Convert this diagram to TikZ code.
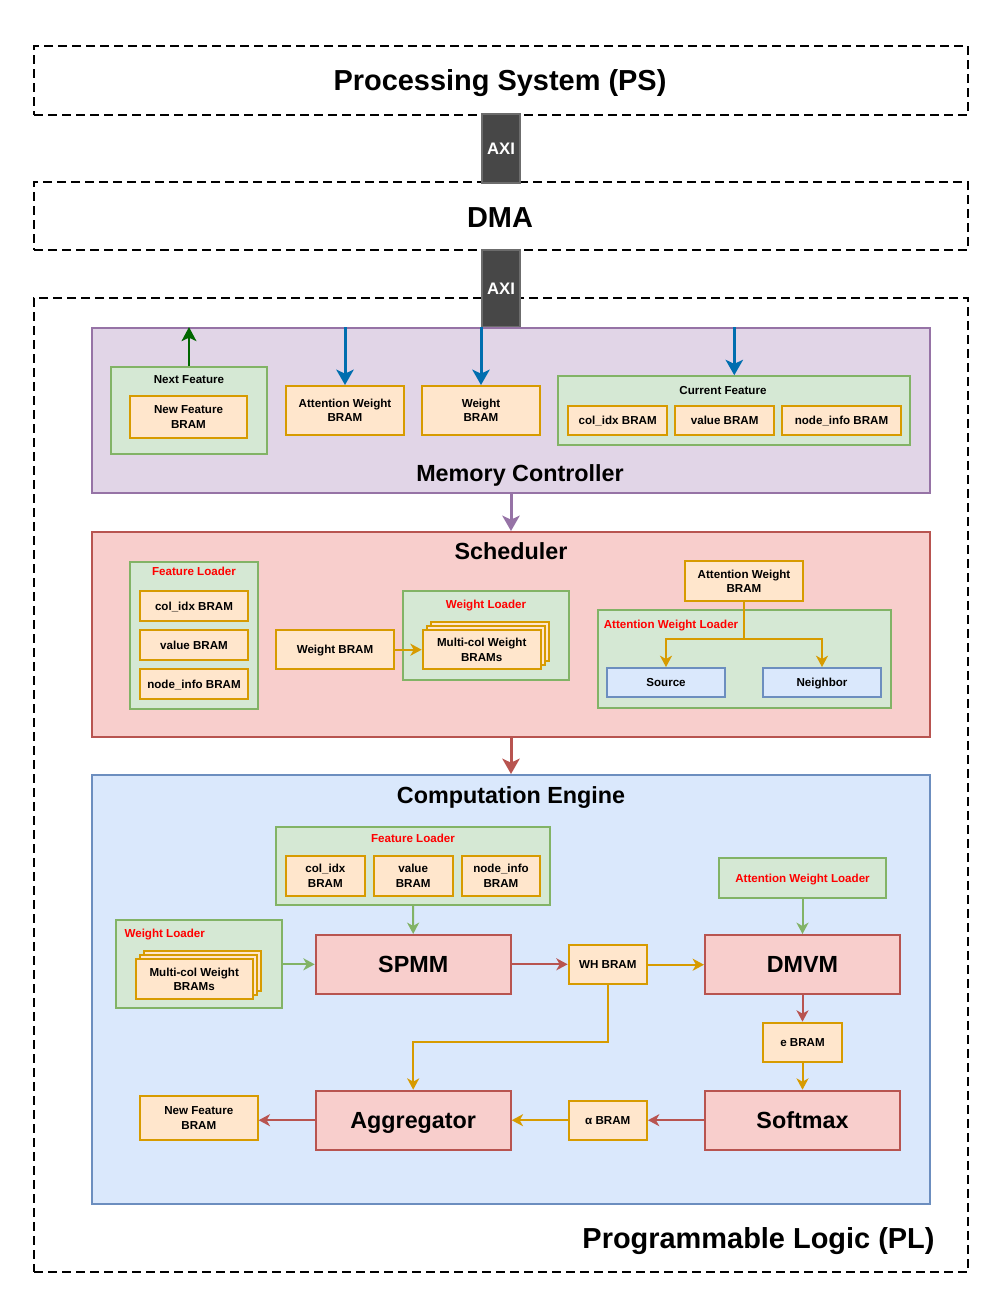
\documentclass[tikz,border=0pt]{standalone}
\usepackage{fontspec}
\setmainfont{Liberation Sans}
\usetikzlibrary{arrows.meta,calc}
\definecolor{gfill}{HTML}{D5E8D4}\definecolor{gline}{HTML}{82B366}
\definecolor{ofill}{HTML}{FFE6CC}\definecolor{oline}{HTML}{D79B00}
\definecolor{rfill}{HTML}{F8CECC}\definecolor{rline}{HTML}{B85450}
\definecolor{bfill}{HTML}{DAE8FC}\definecolor{bline}{HTML}{6C8EBF}
\definecolor{pfill}{HTML}{E1D5E7}\definecolor{pline}{HTML}{9673A6}
\definecolor{axig}{HTML}{474747}
\definecolor{arrblue}{HTML}{006EAF}
\definecolor{arrgreen}{HTML}{006600}
\definecolor{lblred}{HTML}{FF0000}
\begin{document}
\begin{tikzpicture}[x=0.75pt,y=-0.75pt,
  sz/.style 2 args={minimum width=#1*0.75pt, minimum height=#2*0.75pt},
  base/.style={draw, line width=1.5pt, inner sep=0pt, align=center, text depth=0pt,
    font=\fontsize{8.7}{10.7}\selectfont\bfseries},
  orb/.style={base, fill=ofill, draw=oline},
  grn/.style={base, fill=gfill, draw=gline},
  blu/.style={base, fill=bfill, draw=bline},
  modl/.style={base, fill=rfill, draw=rline, font=\fontsize{17.5}{20}\selectfont\bfseries},
  bigbox/.style={base, line width=1.5pt},
  dashbox/.style={draw=black, line width=1.5pt, dash pattern=on 6.5pt off 4pt, inner sep=0pt},
  axibox/.style={base, fill=axig, draw=axig!80!white, text=white, font=\fontsize{12.5}{14}\selectfont\bfseries},
  bigtitle/.style={inner sep=0pt, anchor=base, font=\fontsize{21.7}{24}\selectfont\bfseries},
  title/.style={inner sep=0pt, anchor=base, font=\fontsize{17.5}{20}\selectfont\bfseries},
  lbl/.style={inner sep=0pt, text depth=0pt, font=\fontsize{8.7}{10.7}\selectfont\bfseries},
  redlbl/.style={lbl, text=lblred},
  arr/.style={line width=1.5pt, -{Stealth[length=8.5pt,width=9pt,inset=2.5pt]}},
  thickarr/.style={line width=2.25pt, -{Stealth[length=11.5pt,width=13pt,inset=3pt]}},
  oarr/.style={arr, draw=oline},
  rarr/.style={arr, draw=rline},
  garr/.style={arr, draw=gline},
]
\useasboundingbox (0,0) rectangle (1005,1303);
% ---------- PS and DMA ----------
\node[dashbox, sz={934}{69}] (ps) at (501,80.5) {};
\node[bigtitle] (pst) at (500,90.4) {Processing System (PS)};
\node[dashbox, sz={934}{68}] (dma) at (501,216) {};
\node[bigtitle] (dmat) at (500,227.4) {DMA};
\node[axibox, sz={38}{69}] (axi1) at (501,148.5) {AXI};
% ---------- PL ----------
\node[dashbox, sz={934}{974}] (pl) at (501,785) {};
\node[bigtitle] (plt) at (758.5,1248.4) {Programmable Logic (PL)};
\node[axibox, sz={38}{77}] (axi2) at (501,288.5) {AXI};
% ---------- Memory Controller ----------
\node[bigbox, fill=pfill, draw=pline, sz={838}{165}] (mc) at (511,410.5) {};
\node[title] (mct) at (520,481.4) {Memory Controller};
\node[grn, sz={156}{87}] (nf) at (189,410.5) {};
\node[lbl] (nft) at (189,380) {Next Feature};
\node[orb, sz={117}{42}] (nfb) at (188.5,417) {New Feature\\BRAM};
\node[orb, sz={118}{49}] (awm) at (345,410.5) {Attention Weight\\BRAM};
\node[orb, sz={118}{49}] (wm) at (481,410.5) {Weight\\BRAM};
\node[grn, sz={352}{69}] (cf) at (734.3,410.7) {};
\node[lbl] (cft) at (723,390) {Current Feature};
\node[orb, sz={98.7}{29.7}] (cfc) at (617.7,420.5) {col\_idx BRAM};
\node[orb, sz={98.7}{29.7}] (cfv) at (724.7,420.5) {value BRAM};
\node[orb, sz={118.3}{29.7}] (cfn) at (841.5,420.5) {node\_info BRAM};
\draw[line width=2pt, draw=arrgreen, -{Stealth[length=10.5pt,width=11pt,inset=2.5pt]}] (nf.north) -- (mc.north -| nf.north);
\draw[thickarr, draw=arrblue] (mc.north -| awm.north) -- (awm.north);
\draw[thickarr, draw=arrblue] (mc.north -| wm.north) -- (wm.north);
\draw[thickarr, draw=arrblue] (mc.north -| cf.north) -- (cf.north);
% ---------- Scheduler ----------
\node[bigbox, fill=rfill, draw=rline, sz={838}{205}] (sch) at (511,634.5) {};
\draw[thickarr, draw=pline] (mc.south) -- (sch.north);
\node[title] (scht) at (511,559.4) {Scheduler};
\node[grn, sz={127.7}{146.4}] (sfl) at (193.8,635.5) {};
\node[redlbl] (sflt) at (194,571) {Feature Loader};
\node[orb, sz={108}{30}] (sfc) at (194,606) {col\_idx BRAM};
\node[orb, sz={108}{30}] (sfv) at (194,645) {value BRAM};
\node[orb, sz={108}{30}] (sfn) at (194,684) {node\_info BRAM};
\node[orb, sz={118}{39.3}] (swb) at (335,649.7) {Weight BRAM};
\node[grn, sz={166.7}{88.7}] (swl) at (486,635.3) {};
\node[redlbl] (swlt) at (486,604.7) {Weight Loader};
\node[orb, sz={118}{39.3}] (smc3) at (489.7,641.7) {};
\node[orb, sz={118}{39.3}] (smc2) at (485.7,645.7) {};
\node[orb, sz={118}{39.3}] (smc) at (481.7,649.7) {Multi-col Weight\\BRAMs};
\draw[oarr] (swb.east) -- (smc.west);
\node[orb, sz={117.3}{39.3}] (sawb) at (744,581) {Attention Weight\\BRAM};
\node[grn, sz={293}{98}] (sawl) at (744.2,658.7) {};
\node[redlbl, anchor=west] (sawlt) at (603.5,624) {Attention Weight Loader};
\node[blu, sz={117.3}{29.3}] (src) at (666,682.7) {Source};
\node[blu, sz={117.3}{29.3}] (nbr) at (822,682.7) {Neighbor};
\coordinate (awsplit) at (744,638.7);
\draw[line width=1.5pt, draw=oline] (sawb.south) -- (awsplit);
\draw[oarr] (awsplit) -| (src.north);
\draw[oarr] (awsplit) -| (nbr.north);
% ---------- Computation Engine ----------
\node[bigbox, fill=bfill, draw=bline, sz={838}{429}] (ce) at (511,989.5) {};
\draw[thickarr, draw=rline] (sch.south) -- (ce.north);
\node[title] (cet) at (511,803.4) {Computation Engine};
\node[grn, sz={274}{78.3}] (cfl) at (413,865.8) {};
\node[redlbl] (cflt) at (413,838) {Feature Loader};
\node[orb, sz={78.7}{39.7}] (cfc2) at (325.3,875.8) {col\_idx\\BRAM};
\node[orb, sz={78.7}{39.7}] (cfv2) at (413.2,875.8) {value\\BRAM};
\node[orb, sz={78.7}{39.7}] (cfn2) at (501,875.8) {node\_info\\BRAM};
\node[grn, sz={166}{88.3}] (cwl) at (198.7,964.2) {};
\node[redlbl, anchor=west] (cwlt) at (124.3,933.7) {Weight Loader};
\node[orb, sz={117}{39.7}] (cmc3) at (202.2,971.2) {};
\node[orb, sz={117}{39.7}] (cmc2) at (198.2,975.2) {};
\node[orb, sz={117}{39.7}] (cmc) at (194.2,979.2) {Multi-col Weight\\BRAMs};
\node[modl, sz={195}{58.7}] (spmm) at (413.2,964.3) {SPMM};
\node[grn, sz={166.3}{39.3}] (cawl) at (802.5,878) {\textcolor{lblred}{Attention Weight Loader}};
\node[orb, sz={78.3}{39.3}] (wh) at (607.8,964.7) {WH BRAM};
\node[modl, sz={195}{59}] (dmvm) at (802.5,964.5) {DMVM};
\node[orb, sz={78.3}{39.3}] (eb) at (802.5,1042.3) {e BRAM};
\node[modl, sz={195}{59}] (soft) at (802.5,1120.2) {Softmax};
\node[orb, sz={78.3}{39.3}] (ab) at (607.8,1120.2) {α BRAM};
\node[modl, sz={195}{59}] (agg) at (413.2,1120.2) {Aggregator};
\node[orb, sz={117.7}{43.3}] (cnfb) at (198.8,1118) {New Feature\\BRAM};
\coordinate (whbend) at (0,1042);
\draw[garr] (cfl.south) -- (spmm.north);
\draw[garr] (cwl.east |- spmm.west) -- (spmm.west);
\draw[rarr] (spmm.east) -- (wh.west |- spmm.east);
\draw[oarr] (wh.east) -- (dmvm.west |- wh.east);
\draw[garr] (cawl.south) -- (dmvm.north);
\draw[rarr] (dmvm.south) -- (eb.north);
\draw[oarr] (eb.south) -- (soft.north);
\draw[rarr] (soft.west) -- (ab.east);
\draw[oarr] (ab.west) -- (agg.east);
\draw[oarr] (wh.south) -- (wh.south |- whbend) -| (agg.north);
\draw[rarr] (agg.west) -- (cnfb.east |- agg.west);
\end{tikzpicture}
\end{document}
